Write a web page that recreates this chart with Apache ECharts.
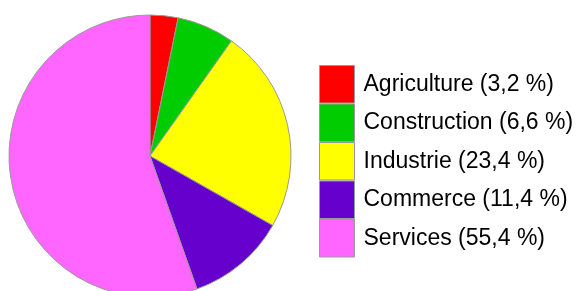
<!DOCTYPE html>
<html>
<head>
<meta charset="utf-8">
<script src="https://cdn.jsdelivr.net/npm/echarts@6/dist/echarts.min.js"></script>
<style>
  html, body { margin: 0; padding: 0; background: #fff; }
  #chart { width: 580px; height: 291px; }
</style>
</head>
<body>
<div id="chart"></div>
<script>
var sectors = ['Agriculture', 'Construction', 'Industrie', 'Commerce', 'Services']
var shares = [3.2, 6.6, 23.4, 11.4, 55.4]
var colors = ['#ff0000', '#00cc00', '#ffff00', '#6600cc', '#ff66ff']

var chart = echarts.init(document.getElementById('chart'))

var pieData = sectors.map(function (name, i) {
  return { name: name, value: shares[i], itemStyle: { color: colors[i] } }
})

chart.setOption({
  animation: false,
  legend: {
    orient: 'vertical',
    left: 319,
    top: 65,
    icon: 'rect',
    itemWidth: 35,
    itemHeight: 37.5,
    itemGap: 0,
    padding: 0,
    data: sectors,
    formatter: function (name) {
      var v = shares[sectors.indexOf(name)]
      return name + ' (' + String(v).replace('.', ',') + ' %)'
    },
    itemStyle: { borderColor: '#999', borderWidth: 1 },
    textStyle: {
      fontFamily: 'Liberation Sans',
      fontSize: 23,
      lineHeight: 36,
      color: '#000',
      padding: [0, 0, 0, 4]
    }
  },
  series: [{
    type: 'pie',
    center: [150, 156],
    radius: 141,
    startAngle: 90,
    clockwise: true,
    label: { show: false },
    labelLine: { show: false },
    emphasis: { disabled: true },
    itemStyle: { borderColor: '#999', borderWidth: 1 },
    data: pieData
  }]
})
</script>
</body>
</html>
